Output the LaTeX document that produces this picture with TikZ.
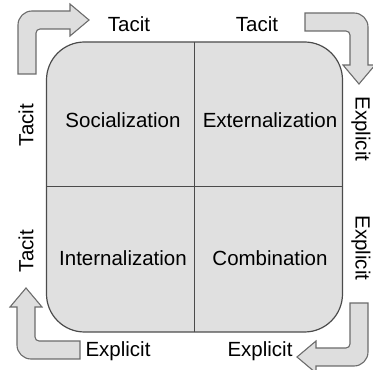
\documentclass[tikz,border=0pt]{standalone}
\usepackage{fontspec}
\setmainfont{Liberation Sans}
\definecolor{cellgray}{RGB}{224,224,224}
\definecolor{arrowgray}{RGB}{222,222,222}
\definecolor{edgegray}{RGB}{75,75,75}
\tikzset{
  quadrant/.style={font=\fontsize{20.5}{24}\selectfont},
  side/.style={font=\fontsize{20.5}{24}\selectfont, inner sep=0pt},
  % bent block arrow, origin at the outer corner, tail down, head right
  bent/.pic={
    \draw[fill=arrowgray, draw=gray!85!black, line width=1.1pt]
      (18,-63) -- (0,-63) -- (0,-14) arc[start angle=180, end angle=90, radius=14]
      -- (52,0) -- (52,7) -- (71,-9) -- (52,-25) -- (52,-18)
      -- (22,-18) arc[start angle=90, end angle=180, radius=4] -- cycle;
  }
}

\begin{document}
\begin{tikzpicture}[x=1pt, y=1pt]
	\useasboundingbox (0,0) rectangle (373,370);
	\node[draw=edgegray, fill=cellgray, line width=1.2pt, rounded corners=38pt,
		outer sep=0pt, minimum width=296pt, minimum height=290pt] (box) at (194.5,183) {};
	\draw[edgegray, line width=1pt] (box.north) -- (box.south);
	\draw[edgegray, line width=1pt] (box.west) -- (box.east);
	\node[quadrant] (soc) at (123,250) {Socialization};
	\node[quadrant] (ext) at (270,250) {Externalization};
	\node[quadrant] (int) at (123,112) {Internalization};
	\node[quadrant] (com) at (270,112) {Combination};
	% the four turns of the spiral
	\pic at (18,359) {bent};
	\pic[rotate=-90] at (368,357) {bent};
	\pic[rotate=180] at (368,4) {bent};
	\pic[rotate=90] at (17,11) {bent};
	\node[side] (tacitA) at (129,346) {Tacit};
	\node[side] (tacitB) at (257,346) {Tacit};
	\node[side, rotate=-90] (explA) at (361,241) {Explicit};
	\node[side, rotate=-90] (explB) at (361,122) {Explicit};
	\node[side] (explC) at (260,19) {Explicit};
	\node[side] (explD) at (118,19) {Explicit};
	\node[side, rotate=90] (tacitC) at (26,119) {Tacit};
	\node[side, rotate=90] (tacitD) at (26,245) {Tacit};
\end{tikzpicture}
\end{document}
